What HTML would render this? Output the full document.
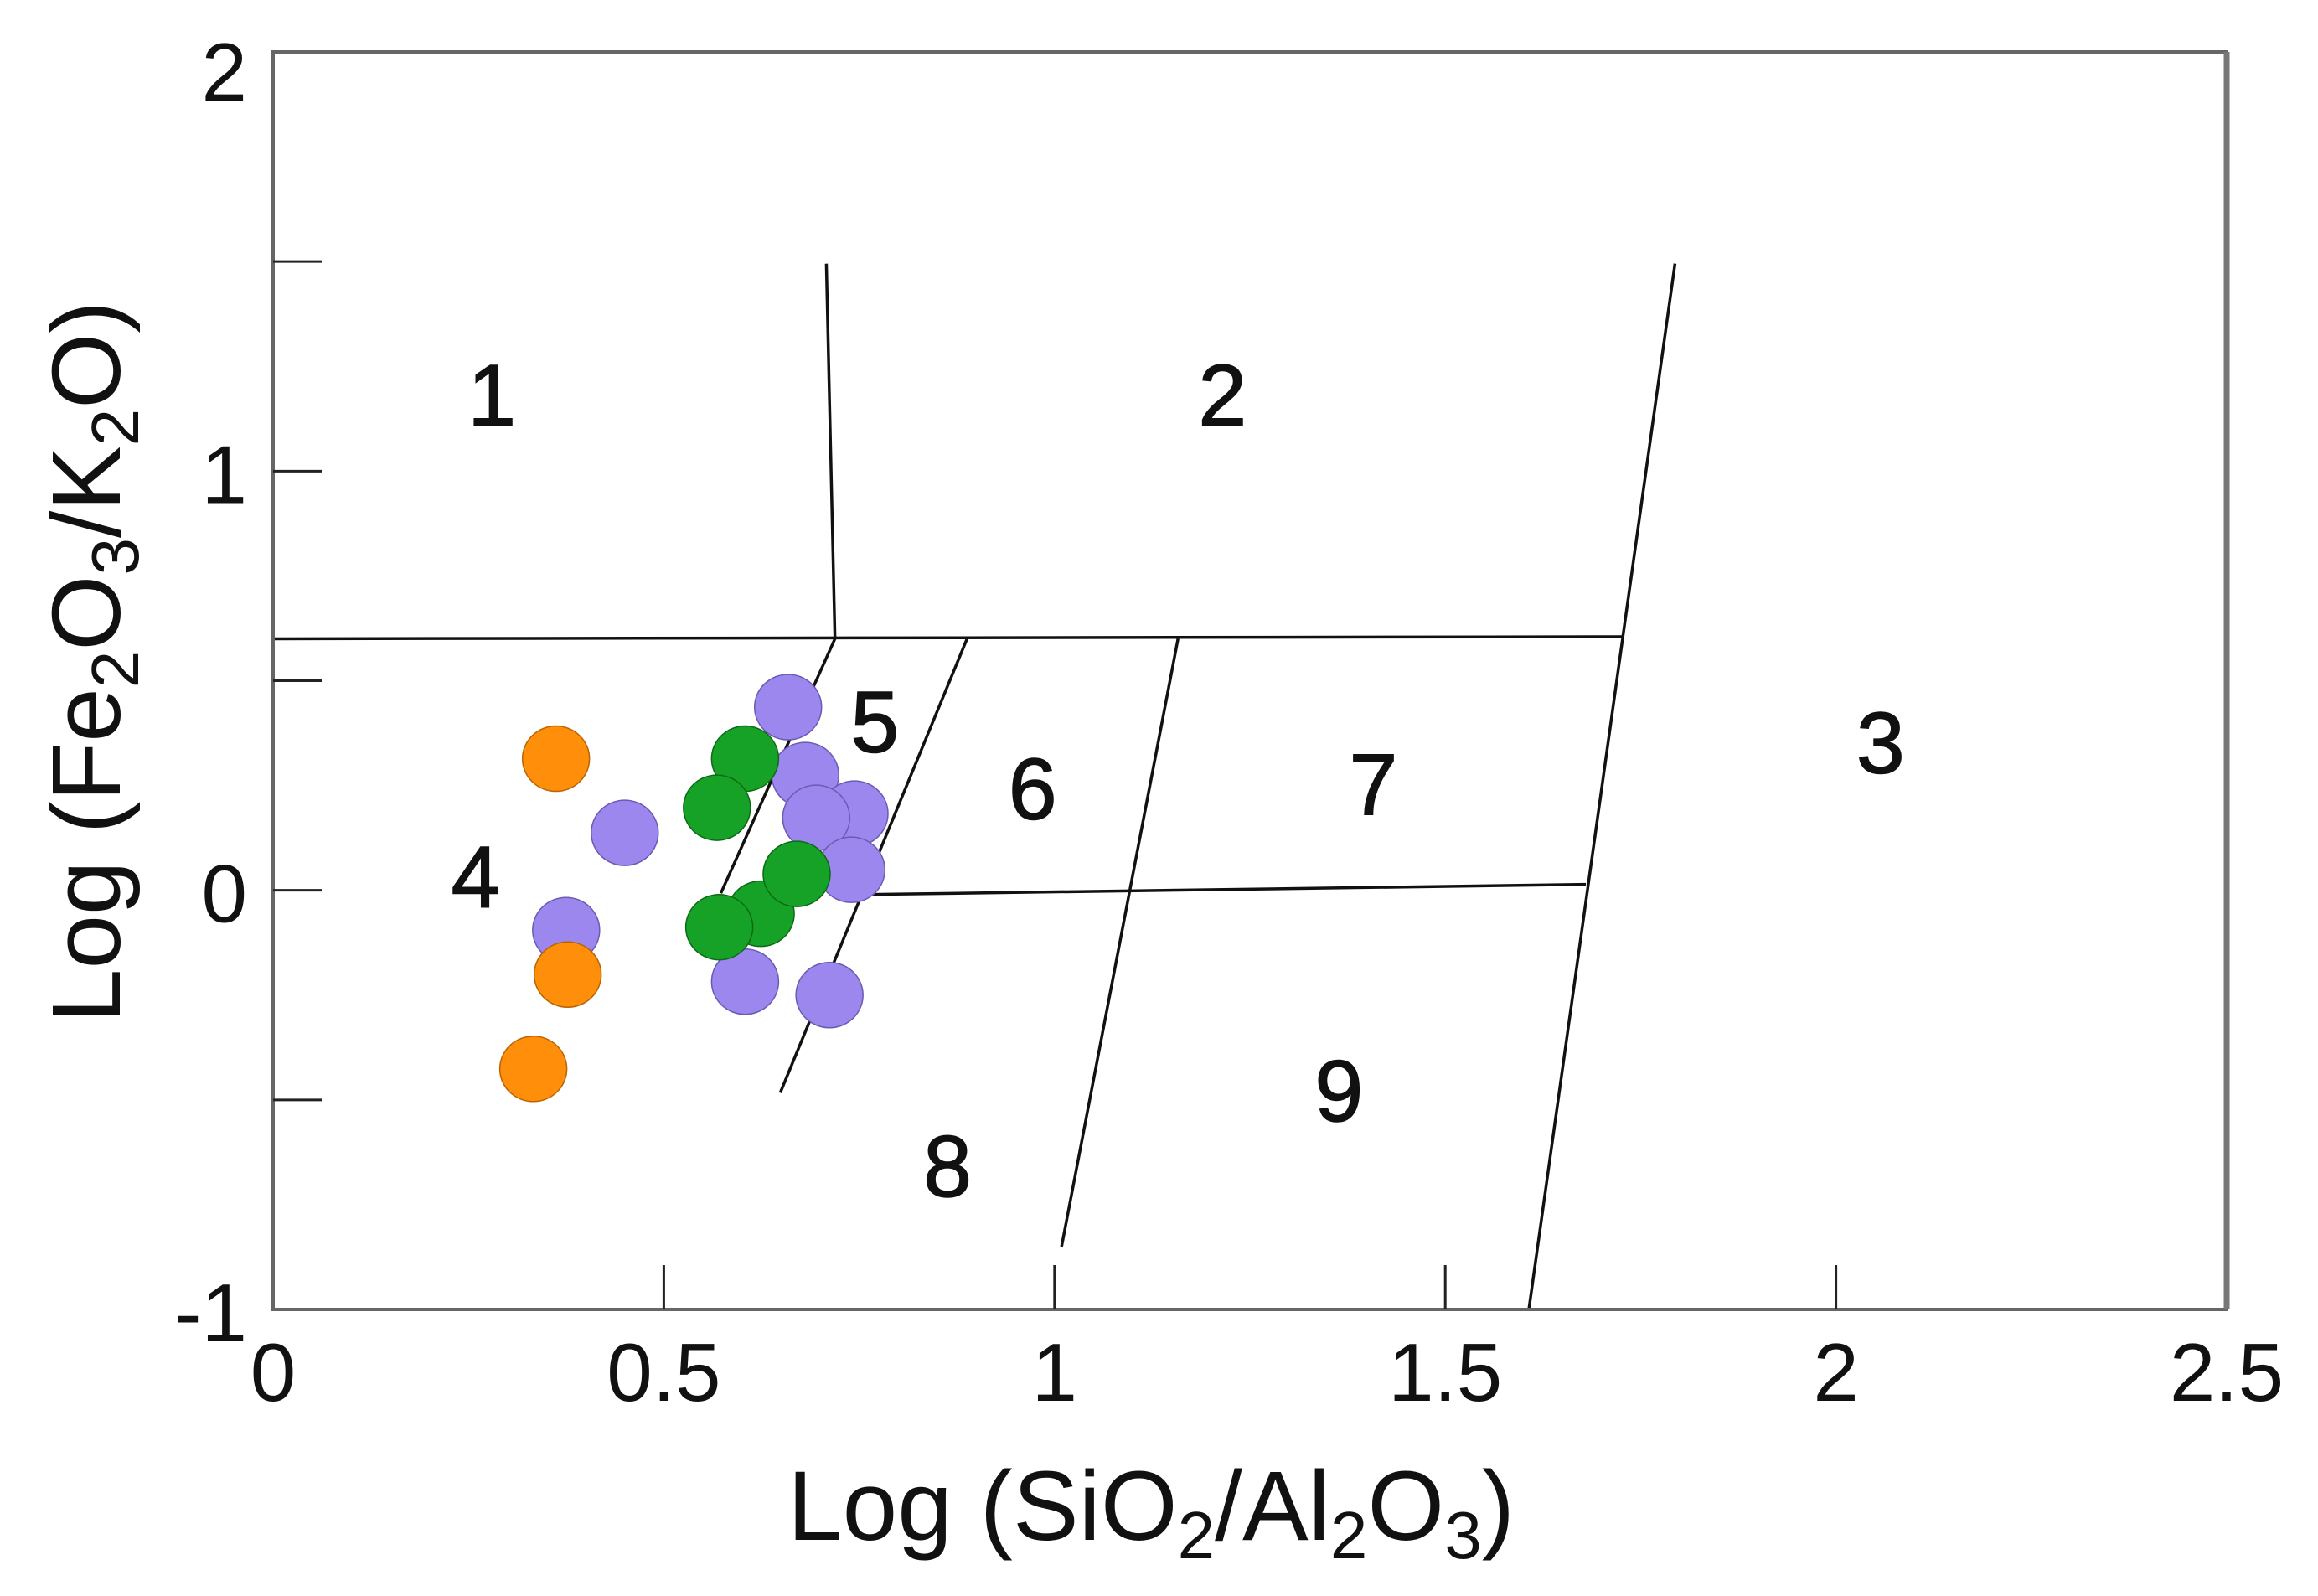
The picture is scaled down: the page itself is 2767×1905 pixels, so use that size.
<!DOCTYPE html>
<html><head><meta charset="utf-8"><style>
html,body{margin:0;padding:0;background:#fff;}
svg{display:block;font-family:"Liberation Sans",Arial,sans-serif;}
</style></head><body>
<svg id="chart" width="2767" height="1905" viewBox="0 0 2767 1905" xmlns="http://www.w3.org/2000/svg">
<rect x="0" y="0" width="2767" height="1905" fill="#fff"/>
<g id="fields"></g>
<g id="labels"></g>
<g id="points"></g>
<g id="axes"></g>
<text x="1374" y="1838" font-size="118" text-anchor="middle" fill="#111">Log (SiO<tspan font-size="80" dy="22">2</tspan><tspan dy="-22">/Al</tspan><tspan font-size="80" dy="22">2</tspan><tspan dy="-22">O</tspan><tspan font-size="80" dy="22">3</tspan><tspan dy="-22">)</tspan></text>
<text transform="translate(143,790) rotate(-90)" font-size="116" text-anchor="middle" fill="#111">Log (Fe<tspan font-size="80" dy="22">2</tspan><tspan dy="-22">O</tspan><tspan font-size="80" dy="22">3</tspan><tspan dy="-22">/K</tspan><tspan font-size="80" dy="22">2</tspan><tspan dy="-22">O)</tspan></text>
</svg>
<script>
var xTicks = [0, 0.5, 1, 1.5, 2, 2.5];
var xTickLabels = ["0", "0.5", "1", "1.5", "2", "2.5"];
var yTicks = [-1, 0, 1, 2];
var yTickLabels = ["-1", "0", "1", "2"];
var yMinorTicks = [1.5, 1, 0.5, 0, -0.5];
var xInnerTicks = [0.5, 1, 1.5, 2];
// boundary lines: [x1,y1,x2,y2] in data units
var boundaries = [
  [0, 0.6, 1.726, 0.605],
  [0.708, 1.495, 0.719, 0.6],
  [1.794, 1.495, 1.607, -1],
  [0.766, -0.01, 1.68, 0.014],
  [0.719, 0.6, 0.573, -0.007],
  [0.888, 0.6, 0.649, -0.483],
  [1.158, 0.6, 1.009, -0.85]
];
var fieldNames = ["1","2","3","4","5","6","7","8","9"];
var fieldX = [0.28, 1.215, 2.057, 0.259, 0.77, 0.972, 1.408, 0.863, 1.364];
var fieldY = [1.18, 1.18, 0.35, 0.03, 0.4, 0.24, 0.25, -0.66, -0.48];
var purpleX = [0.659, 0.681, 0.744, 0.695, 0.740, 0.450, 0.375, 0.604, 0.712];
var purpleY = [0.437, 0.275, 0.183, 0.173, 0.049, 0.137, -0.095, -0.218, -0.250];
var greenX = [0.604, 0.568, 0.624, 0.670, 0.571];
var greenY = [0.314, 0.197, -0.056, 0.039, -0.088];
var orangeX = [0.362, 0.377, 0.333];
var orangeY = [0.314, -0.201, -0.426];

var X0 = 326, X1 = 2658, Y0 = 1563, Y1 = 62;
function sx(v){ return X0 + (v - 0) / 2.5 * (X1 - X0); }
function sy(v){ return Y0 - (v + 1) / 3 * (Y0 - Y1); }
var NS = "http://www.w3.org/2000/svg";
function mk(tag, attrs, parent){
  var e = document.createElementNS(NS, tag);
  for (var k in attrs) e.setAttribute(k, attrs[k]);
  parent.appendChild(e);
  return e;
}
var fields = document.getElementById('fields');
boundaries.forEach(function(b){
  var l = mk('line', {x1: sx(b[0]), y1: sy(b[1]), x2: sx(b[2]), y2: sy(b[3]), stroke: '#111', 'stroke-width': 3.5}, fields);
  
  
});
var labels = document.getElementById('labels');
fieldNames.forEach(function(n, i){
  var t = mk('text', {x: sx(fieldX[i]), y: sy(fieldY[i]), 'font-size': 104, 'text-anchor': 'middle', 'dominant-baseline': 'central', fill: '#111', stroke: '#111', 'stroke-width': 1.5}, labels);
  t.textContent = n;
  
  
});
var pts = document.getElementById('points');
function drawSeries(xs, ys, fill, stroke, name){
  xs.forEach(function(x, i){
    var c = mk('ellipse', {cx: sx(x), cy: sy(ys[i]), rx: 40, ry: 39, fill: fill, stroke: stroke, 'stroke-width': 1.5}, pts);
    
    
  });
}
drawSeries(purpleX, purpleY, '#9c87ef', '#6a5bb0', 'purple-point');
drawSeries(greenX, greenY, '#16a226', '#0c6a16', 'green-point');
drawSeries(orangeX, orangeY, '#ff8e0a', '#b86400', 'orange-point');

var axes = document.getElementById('axes');
var frame = mk('rect', {x: X0, y: Y1, width: X1 - X0, height: Y0 - Y1, fill: 'none', stroke: '#666', 'stroke-width': 4}, axes);


var rb = mk('line', {x1: X1, y1: Y1, x2: X1, y2: Y0, stroke: '#777', 'stroke-width': 7}, axes);


yMinorTicks.forEach(function(v){
  var l = mk('line', {x1: X0, y1: sy(v), x2: X0 + 58, y2: sy(v), stroke: '#222', 'stroke-width': 3}, axes);
  
  
});
xInnerTicks.forEach(function(v){
  var l = mk('line', {x1: sx(v), y1: Y0, x2: sx(v), y2: Y0 - 53, stroke: '#222', 'stroke-width': 3}, axes);
  
  
});
xTicks.forEach(function(v, i){
  var t = mk('text', {x: sx(v), y: 1672, 'font-size': 98, 'text-anchor': 'middle', fill: '#111'}, axes);
  t.textContent = xTickLabels[i];
  
  
});
yTicks.forEach(function(v, i){
  var yy = sy(v) + 38 + (v === 2 ? 20 : 0);
  var t = mk('text', {x: 295, y: yy, 'font-size': 98, 'text-anchor': 'end', fill: '#111'}, axes);
  t.textContent = yTickLabels[i];
  
  
});
</script>
</body></html>
